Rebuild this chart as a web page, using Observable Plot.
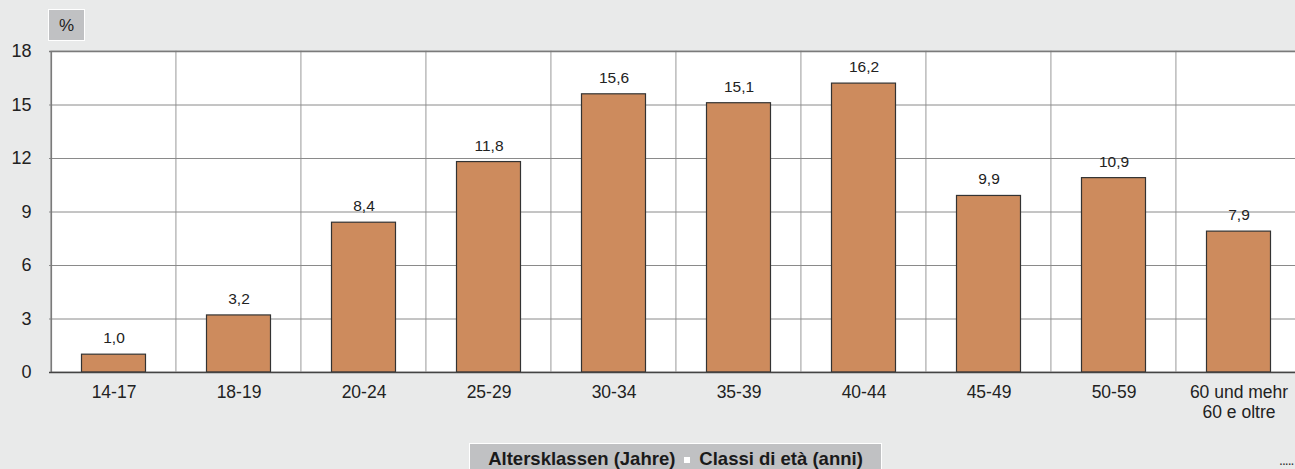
<!DOCTYPE html>
<html>
<head>
<meta charset="utf-8">
<script src="https://cdn.jsdelivr.net/npm/d3@7"></script>
<script src="https://cdn.jsdelivr.net/npm/@observablehq/plot@0.6"></script>
<style>
  html, body { margin: 0; padding: 0; background: #e9eaea; overflow: hidden; width: 1295px; height: 469px; }
  #wrap { position: relative; width: 1295px; height: 469px; overflow: hidden; font-family: "Liberation Sans", Arial, sans-serif; }
  #chart { position: absolute; left: 0; top: 0; width: 1303px; }
  #chart svg { max-width: none !important; }
  #unit { position: absolute; left: 48px; top: 9px; width: 35px; height: 30px; background: #c0c1c3; border: 1px solid #fff;
          font-size: 17px; color: #222; text-align: center; line-height: 32px; }
  #caption { position: absolute; left: 469px; top: 443px; width: 411px; height: 20px; padding-top: 5px; background: #c0c1c3; border-top: 1px solid #fff;
             border-left: 1px solid #fff; border-right: 1px solid #fff;
             font-size: 18.5px; font-weight: bold; color: #1a1a1a; line-height: 20px; text-align: center; white-space: nowrap; }
  #caption .sq { display: inline-block; width: 6px; height: 6px; background: #fff; margin: 0 9px; vertical-align: 2px; }
  #dots { position: absolute; left: 1279px; top: 452px; font-size: 14px; line-height: 16px; color: #333; letter-spacing: -1px; }
</style>
</head>
<body>
<div id="wrap">
  <div id="chart"></div>
  <div id="unit">%</div>
  <div id="caption">Altersklassen (Jahre)<span class="sq"></span>Classi di età (anni)</div>
  <div id="dots">.....</div>
</div>
<script>
const categories = ["14-17", "18-19", "20-24", "25-29", "30-34", "35-39", "40-44", "45-49", "50-59", "60 und mehr\n60 e oltre"];
const values = [1.0, 3.2, 8.4, 11.8, 15.6, 15.1, 16.2, 9.9, 10.9, 7.9];
const yTicks = [0, 3, 6, 9, 12, 15, 18];

const data = categories.map((c, i) => ({category: c, value: values[i]}));
const fmt = v => d3.format(".1f")(v).replace(".", ",");

const chart = Plot.plot({
  width: 1303,
  height: 430,
  marginLeft: 49,
  marginRight: 1,
  marginTop: 51,
  marginBottom: 58,
  style: { background: "transparent", fontFamily: "'Liberation Sans', Arial, sans-serif", fontSize: "17px", color: "#222", maxWidth: "none" },
  x: { domain: categories, padding: 0, label: null, tickSize: 0, tickPadding: 12 },
  y: { domain: [0, 18], ticks: yTicks, label: null, tickSize: 0, tickPadding: 18 },
  marks: [
    Plot.barY(categories, { x: d => d, y1: 0, y2: 18, fill: "white", stroke: "#b8b8b8", strokeWidth: 1.2 }),
    Plot.ruleY(yTicks.filter(t => t > 0 && t < 18), { stroke: "#8a8a8a", strokeWidth: 1 }),
    Plot.ruleY([18], { stroke: "#7a7a7a", strokeWidth: 1.5 }),
    Plot.ruleX([categories[0]], { x: d => d, y1: 0, y2: 18, dx: -62.65, stroke: "#7a7a7a", strokeWidth: 1.5 }),
    Plot.barY(data, { x: "category", y: "value", fill: "#cd8b5d", stroke: "#333", strokeWidth: 1.2, insetLeft: 30.5, insetRight: 30.5 }),
    Plot.ruleY([0], { stroke: "#444", strokeWidth: 1.5 }),
    Plot.text(data, { x: "category", y: "value", text: d => fmt(d.value), dy: -16.5, lineAnchor: "middle", fontSize: 15.5, fill: "#222" }),
    Plot.axisY({ ticks: yTicks, tickSize: 0, tickPadding: 18, fontSize: 18, label: null }),
    Plot.axisX({ tickSize: 0, tickPadding: 11, fontSize: 17.5, label: null, lineHeight: 1.15 })
  ]
});
document.getElementById("chart").appendChild(chart);
</script>
</body>
</html>
